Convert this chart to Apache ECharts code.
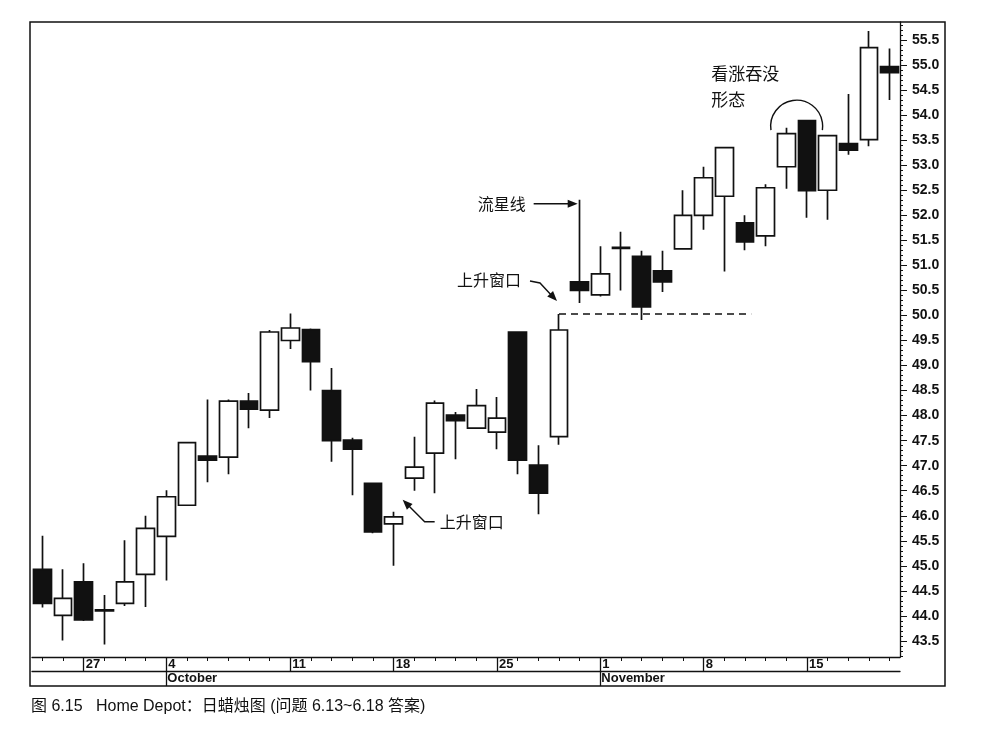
<!DOCTYPE html>
<html><head><meta charset="utf-8">
<script src="https://cdn.jsdelivr.net/npm/echarts@6/dist/echarts.min.js"></script>
<style>html,body{margin:0;padding:0;background:#fff}#c{width:983px;height:739px}</style>
</head><body><div id="c"></div>
<script>
// ---- data ----
const dates = ['Sep 23','Sep 24','Sep 27','Sep 28','Sep 29','Sep 30','Oct 1','Oct 4','Oct 5','Oct 6','Oct 7','Oct 8',
  'Oct 11','Oct 12','Oct 13','Oct 14','Oct 15','Oct 18','Oct 19','Oct 20','Oct 21','Oct 22','Oct 25','Oct 26','Oct 27',
  'Oct 28','Oct 29','Nov 1','Nov 2','Nov 3','Nov 4','Nov 5','Nov 8','Nov 9','Nov 10','Nov 11','Nov 12','Nov 15',
  'Nov 16','Nov 17','Nov 18','Nov 19'];
const openP  = [44.93,44.01,44.68,44.10,44.25,44.83,45.59,46.21,47.19,47.17,48.29,48.11,49.50,49.72,48.50,47.51,46.65,45.84,46.75,47.25,48.01,47.75,47.67,49.67,47.01,47.58,50.67,50.41,51.34,51.18,50.89,51.33,52.00,52.38,51.85,51.59,52.97,53.89,52.50,53.43,53.51,54.97];
const closeP = [44.25,44.35,43.92,44.12,44.68,45.75,46.38,47.46,47.11,48.29,48.13,49.67,49.75,49.08,47.50,47.33,45.68,45.98,46.97,48.25,47.90,48.20,47.95,47.11,46.45,49.71,50.50,50.83,51.36,50.17,50.67,52.00,52.75,53.35,51.47,52.55,53.63,52.49,53.59,53.30,55.35,54.85];
const lowP   = [44.17,43.51,43.90,43.43,44.20,44.18,44.71,46.20,46.67,46.83,47.75,47.95,49.33,48.50,47.08,46.41,45.65,45.00,46.50,46.45,47.13,47.74,47.33,46.83,46.03,47.42,50.25,50.38,50.50,49.91,50.47,51.32,51.71,50.88,51.30,51.38,52.53,51.95,51.91,53.21,53.38,54.30];
const highP  = [45.60,44.93,45.05,44.42,45.51,46.00,46.51,47.48,48.32,48.32,48.45,49.71,50.04,49.74,48.95,47.56,46.66,46.08,47.58,48.30,48.07,48.53,48.37,49.68,47.41,50.03,52.31,51.38,51.67,51.29,51.29,52.50,52.97,53.36,52.00,52.62,53.75,53.90,53.60,54.42,55.68,55.33];
const priceTicks = [43.5,44.0,44.5,45.0,45.5,46.0,46.5,47.0,47.5,48.0,48.5,49.0,49.5,50.0,50.5,51.0,51.5,52.0,52.5,53.0,53.5,54.0,54.5,55.0,55.5];
const weekLabelIdx = [2,6,12,17,22,27,32,37];
const weekLabels   = ['27','4','11','18','25','1','8','15'];
const monthLabelIdx = [6,27];
const monthLabels   = ['October','November'];
const caption = '图 6.15   Home Depot：日蜡烛图 (问题 6.13~6.18 答案)';

// ---- chart ----
const INK = '#111';
const FONT = '"Liberation Sans", Arial, "Noto Sans CJK SC", sans-serif';
const CJK = '"Noto Sans CJK SC", sans-serif';
const minorTicks = [];
for (let k = 432; k <= 558; k++) minorTicks.push(k / 10);
const candles = dates.map((d, i) => [openP[i], closeP[i], lowP[i], highP[i]]);
const weekMap = {}; weekLabelIdx.forEach((ix, j) => weekMap[ix] = weekLabels[j]);
const monthMap = {}; monthLabelIdx.forEach((ix, j) => monthMap[ix] = monthLabels[j]);
const YMIN = 43.18, YMAX = 55.86;

const chart = echarts.init(document.getElementById('c'), null, {renderer: 'canvas'});
chart.setOption({
  animation: false,
  backgroundColor: '#fff',
  title: {text: caption, left: 31, top: 699, padding: 0,
    textStyle: {fontSize: 16, fontWeight: 'normal', fontFamily: FONT, color: INK}},
  grid: {left: 32, right: 83, top: 22, bottom: 82, containLabel: false},
  xAxis: [
    {type: 'category', data: dates, boundaryGap: true, position: 'bottom',
     axisLine: {show: true, lineStyle: {color: INK, width: 1.3}},
     axisTick: {show: true, alignWithLabel: true, interval: 0, length: 4, lineStyle: {color: INK, width: 1}},
     axisLabel: {show: true, interval: (i) => weekMap[i] !== undefined, formatter: (v, i) => weekMap[i] || '',
       align: 'left', margin: 1, padding: [0, 0, 0, 2], color: INK, fontSize: 13, fontWeight: 'bold', fontFamily: FONT},
     splitLine: {show: false}},
    {type: 'category', data: dates, boundaryGap: true, position: 'bottom',
     axisLine: {show: false},
     axisTick: {show: true, alignWithLabel: true, interval: (i) => weekMap[i] !== undefined, length: 14, lineStyle: {color: INK, width: 1.3}},
     axisLabel: {show: false}, splitLine: {show: false}},
    {type: 'category', data: dates, boundaryGap: true, position: 'bottom', offset: 14,
     axisLine: {show: true, lineStyle: {color: INK, width: 1.3}},
     axisTick: {show: true, alignWithLabel: true, interval: (i) => monthMap[i] !== undefined, length: 15, lineStyle: {color: INK, width: 1.3}},
     axisLabel: {show: true, interval: (i) => monthMap[i] !== undefined, formatter: (v, i) => monthMap[i] || '',
       align: 'left', margin: 1, padding: [0, 0, 0, 1], color: INK, fontSize: 13, fontWeight: 'bold', fontFamily: FONT},
     splitLine: {show: false}}
  ],
  yAxis: [
    {type: 'value', position: 'right', min: YMIN, max: YMAX, scale: true,
     axisLine: {show: true, lineStyle: {color: INK, width: 1.3}},
     axisTick: {show: true, customValues: minorTicks, length: 3, lineStyle: {color: INK, width: 1}},
     axisLabel: {show: false}, splitLine: {show: false}},
    {type: 'value', position: 'right', min: YMIN, max: YMAX, scale: true,
     axisLine: {show: false},
     axisTick: {show: true, customValues: priceTicks, length: 7, lineStyle: {color: INK, width: 1}},
     axisLabel: {show: true, customValues: priceTicks, formatter: (v) => v.toFixed(1), margin: 12,
       color: INK, fontSize: 14, fontWeight: 'bold', fontFamily: FONT},
     splitLine: {show: false}}
  ],
  series: [{
    type: 'candlestick', xAxisIndex: 0, yAxisIndex: 0, data: candles, barWidth: 18,
    itemStyle: {color: '#fff', color0: INK, borderColor: INK, borderColor0: INK, borderWidth: 1.7},
    emphasis: {disabled: true}
  }]
});

// ---- annotations placed through the axes ----
const px = (i) => chart.convertToPixel({xAxisIndex: 0}, dates[i]);
const py = (v) => chart.convertToPixel({yAxisIndex: 0}, v);
const step = px(1) - px(0);
function head(tx, ty, fx, fy, len, half) {
  const dx = tx - fx, dy = ty - fy, L = Math.hypot(dx, dy), ux = dx / L, uy = dy / L;
  const bx = tx - ux * len, by = ty - uy * len;
  return {type: 'polygon', shape: {points: [[tx, ty], [bx - uy * half, by + ux * half], [bx + uy * half, by - ux * half]]},
    style: {fill: INK}};
}
const g = [];
// outer frame
g.push({type: 'rect', shape: {x: 30, y: 22, width: 915, height: 664}, style: {fill: null, stroke: INK, lineWidth: 1.5}, z: 10});
// shooting star
{
  const tx = px(26) - 2, ty = py(highP[26]) + 4, sx = tx - 44;
  g.push({type: 'line', shape: {x1: sx, y1: ty, x2: tx - 6, y2: ty}, style: {stroke: INK, lineWidth: 1.4}});
  g.push(head(tx, ty, sx, ty, 10, 4));
  g.push({type: 'text', style: {text: '流星线', x: sx - 8, y: ty, align: 'right', verticalAlign: 'middle',
    fontSize: 16, fontFamily: CJK, fill: INK}});
}
// upper rising window
{
  const tx = px(25) - 2, ty = py(highP[25]) - 13;
  const p0 = [tx - 27, ty - 20], p1 = [tx - 17, ty - 18];
  g.push({type: 'polyline', shape: {points: [p0, p1, [tx - 4, ty - 4]]}, style: {stroke: INK, lineWidth: 1.4, fill: null}});
  g.push(head(tx, ty, p1[0], p1[1], 10, 4));
  g.push({type: 'text', style: {text: '上升窗口', x: p0[0] - 9, y: p0[1] - 1, align: 'right', verticalAlign: 'middle',
    fontSize: 16, fontFamily: CJK, fill: INK}});
  const y = py(highP[25]);
  g.push({type: 'line', shape: {x1: px(25), y1: y, x2: px(25) + 9.3 * step, y2: y},
    style: {stroke: INK, lineWidth: 1.5, lineDash: [7, 5]}});
}
// lower rising window
{
  const tx = px(17) + 9, ty = py(highP[17]) - 12;
  const p1 = [tx + 22, ty + 22], p2 = [tx + 32, ty + 22];
  g.push({type: 'polyline', shape: {points: [p2, p1, [tx + 4, ty + 4]]}, style: {stroke: INK, lineWidth: 1.4, fill: null}});
  g.push(head(tx, ty, p1[0], p1[1], 10, 4));
  g.push({type: 'text', style: {text: '上升窗口', x: p2[0] + 5, y: p2[1], align: 'left', verticalAlign: 'middle',
    fontSize: 16, fontFamily: CJK, fill: INK}});
}
// bullish engulfing
{
  const cx = (px(36) + px(37)) / 2, cy = py(53.78);
  g.push({type: 'arc', shape: {cx: cx, cy: cy, r: 26, startAngle: Math.PI - 0.15, endAngle: 2 * Math.PI + 0.15, clockwise: true},
    style: {stroke: INK, lineWidth: 1.4, fill: null}});
  g.push({type: 'text', style: {text: '看涨吞没\n形态', x: px(33) - 13, y: py(54.58), align: 'left', verticalAlign: 'middle',
    lineHeight: 26, fontSize: 17, fontFamily: CJK, fill: INK}});
}
chart.setOption({graphic: g});
</script></body></html>
